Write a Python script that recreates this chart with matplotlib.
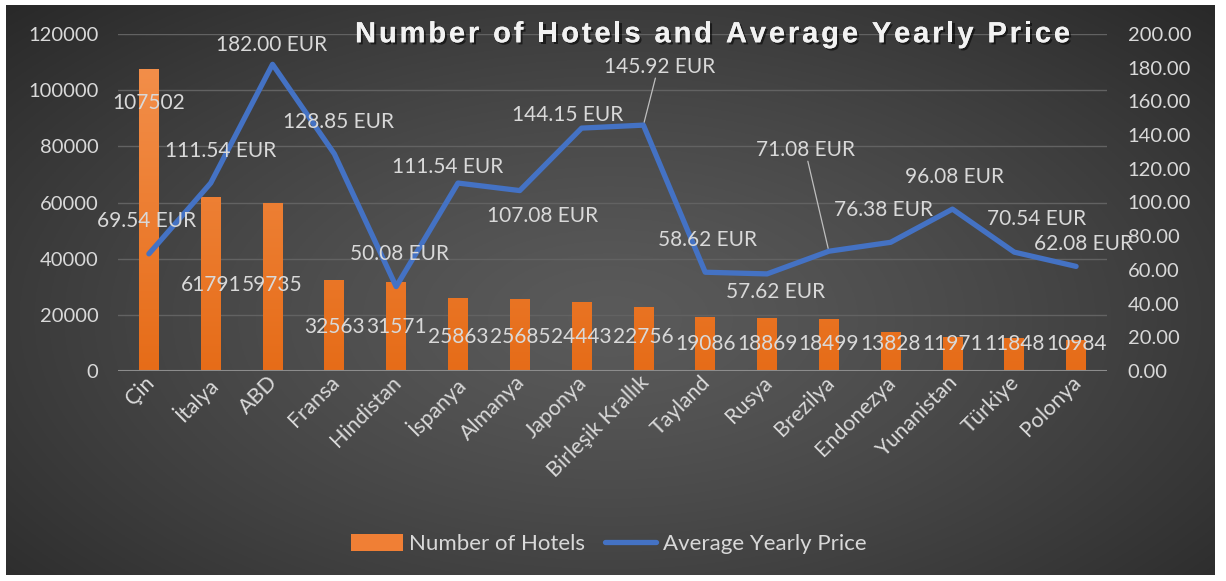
import numpy as np
import matplotlib
matplotlib.use("Agg")
import matplotlib.pyplot as plt
import matplotlib.patheffects as pe
import matplotlib.transforms as mtransforms
from matplotlib.lines import Line2D
from matplotlib.patches import Patch
from matplotlib.font_manager import FontProperties

countries = ["Çin", "İtalya", "ABD", "Fransa", "Hindistan", "İspanya", "Almanya",
             "Japonya", "Birleşik Krallık", "Tayland", "Rusya", "Brezilya",
             "Endonezya", "Yunanistan", "Türkiye", "Polonya"]
hotels = [107502, 61791, 59735, 32563, 31571, 25863, 25685, 24443, 22756,
          19086, 18869, 18499, 13828, 11971, 11848, 10984]
prices = [69.54, 111.54, 182.00, 128.85, 50.08, 111.54, 107.08, 144.15, 145.92,
          58.62, 57.62, 71.08, 76.38, 96.08, 70.54, 62.08]
title = "Number of Hotels and Average Yearly Price"

# label placement (pixel offsets for price labels, data y for hotel labels)
price_offsets = [(-2, 33), (10, 32), (-1, 19), (4, 32), (3, 33), (-10, 16),
                 (23, -25), (-14, 13), (16, 58), (2, 32), (9, -18), (-23, 101),
                 (-7, 32), (2, 32), (22, 33), (7, 22)]
hotel_label_y = [95400, 30600, 30600, 15700, 15700, 12100, 12100, 12100, 12100,
                 9600, 9600, 9600, 9600, 9600, 9600, 9600]

txt = "#d9d9d9"
plt.rcParams["font.family"] = ["Lato", "DejaVu Sans"]

W, H = 1226, 581
fig = plt.figure(figsize=(W / 100, H / 100), dpi=100, facecolor="white")

# background with radial gradient
bg = fig.add_axes([6 / W, 6 / H, 1209 / W, 570 / H])
yy, xx = np.mgrid[0:1:300j, 0:1:600j]
r = np.sqrt(((xx - 0.5) / 0.75) ** 2 + ((yy - 0.45) / 0.85) ** 2)
r = np.clip(r, 0, 1)
c0 = np.array([0x5a, 0x5a, 0x5a]) / 255
c1 = np.array([0x24, 0x24, 0x24]) / 255
img = c0 + (c1 - c0) * r[..., None] ** 1.3
bg.imshow(img, aspect="auto", extent=[0, 1, 0, 1], origin="lower")
bg.set_axis_off()

ax = fig.add_axes([118 / W, 1 - 371 / H, (1107 - 118) / W, (371 - 34) / H])
ax.patch.set_visible(False)
x = np.arange(len(countries))
bw = 0.32
bars = ax.bar(x, hotels, width=bw, color="#ee7b30", zorder=2)

# vertical orange gradient in each bar
grad = np.linspace(0, 1, 256)[:, None]
cmap = matplotlib.colors.LinearSegmentedColormap.from_list("o", ["#e66c18", "#f4924f"])
for b in bars:
    b.set_facecolor("none")
    im = ax.imshow(grad, cmap=cmap, aspect="auto", origin="lower",
                   extent=[b.get_x(), b.get_x() + bw, 0, 120000], zorder=2)
    im.set_clip_path(b)

ax.set_xlim(-0.5, len(countries) - 0.5)
ax.set_ylim(0, 120000)
ax.set_yticks(range(0, 120001, 20000))
ax.grid(axis="y", color="#626262", lw=1, zorder=0)
ax.axhline(0, color="#8c8c8c", lw=1.5, zorder=3)
for s in ax.spines.values():
    s.set_visible(False)
ax.tick_params(length=0, colors=txt, labelsize=14.5)
ax.tick_params(axis="y", pad=14)
ax.set_xticks(x)
ax.set_xticklabels(countries, rotation=45, ha="right", rotation_mode="anchor", fontsize=15.5)
ax.tick_params(axis="x", pad=1)
shift = mtransforms.ScaledTranslation(-5 / 100, 0, fig.dpi_scale_trans)
for lab in ax.get_xticklabels():
    lab.set_transform(lab.get_transform() + shift)

for xi, v, ly in zip(x, hotels, hotel_label_y):
    ax.text(xi, ly, str(v), ha="center", va="center", color=txt, fontsize=15, zorder=5)

ax2 = ax.twinx()
ax2.patch.set_visible(False)
ax2.plot(x, prices, color="#4472c4", lw=3.8, solid_capstyle="round", zorder=4)
ax2.set_ylim(0, 200)
ax2.set_yticks(range(0, 201, 20))
ax2.set_yticklabels([f"{v:.2f}" for v in range(0, 201, 20)])
for s in ax2.spines.values():
    s.set_visible(False)
ax2.tick_params(length=0, colors=txt, labelsize=14.5, pad=15)

for i, (xi, p, off) in enumerate(zip(x, prices, price_offsets)):
    ax2.annotate(f"{p:.2f} EUR", (xi, p), xytext=off, textcoords="offset pixels",
                 ha="center", va="center", color=txt, fontsize=15, zorder=6)
    if i in (8, 11):
        dx, dy = off
        ax2.annotate("", (xi, p), xytext=(dx - 4 if i == 8 else dx + 2, dy - 11),
                     textcoords="offset pixels",
                     arrowprops=dict(arrowstyle="-", color="#bfbfbf", lw=0.9,
                                     shrinkA=0, shrinkB=2))

# title with letter spacing, drawn one character at a time
tprop = FontProperties(family="Liberation Sans", weight="bold", size=21)
renderer = fig.canvas.get_renderer()


def adv(ch):
    w1 = renderer.get_text_width_height_descent("x" + ch + "x", tprop, ismath=False)[0]
    w0 = renderer.get_text_width_height_descent("xx", tprop, ismath=False)[0]
    return w1 - w0


advs = [adv(c) for c in title]
extra = (715 - sum(advs)) / (len(title) - 1)
xpos = 355
shadow = [pe.withSimplePatchShadow(offset=(1.5, -1.5), shadow_rgbFace="black", alpha=0.55),
          pe.Normal()]
for c, a in zip(title, advs):
    if c != " ":
        fig.text(xpos / W, 1 - 42.3 / H, c, ha="left", va="baseline", color="#f2f2f2",
                 fontproperties=tprop, path_effects=shadow)
    xpos += a + extra

handles = [Patch(facecolor="#f07f35", label="Number of Hotels"),
           Line2D([], [], color="#4472c4", lw=3.8, solid_capstyle="round",
                  label="Average Yearly Price")]
fig.legend(handles=handles, loc="center", bbox_to_anchor=(609 / W, 1 - 544 / H),
           ncol=2, frameon=False, fontsize=16, labelcolor=txt,
           handlelength=2.3, handleheight=0.8, handletextpad=0.3, columnspacing=0.9)

fig.savefig("out.png", dpi=100, facecolor="white")
